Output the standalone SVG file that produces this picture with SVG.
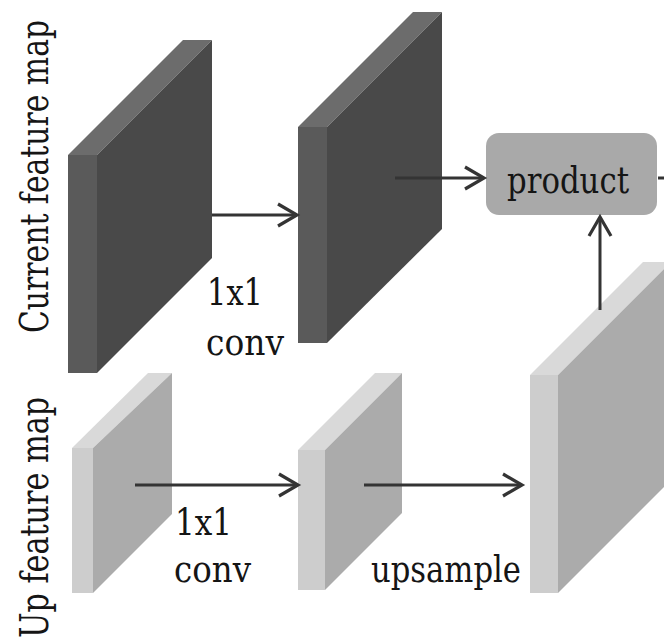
<svg xmlns="http://www.w3.org/2000/svg" width="664" height="640" viewBox="0 0 664 640">
  <style>
    .lbl { font-family: 'DejaVu Serif Condensed', 'DejaVu Serif', serif; font-size: 38px; fill: #151515; }
    .side { font-family: 'DejaVu Serif Condensed', 'DejaVu Serif', serif; font-size: 40px; fill: #151515; }
    .dk-top { fill: #6c6c6c; }
    .dk-side { fill: #5a5a5a; }
    .dk-front { fill: #494949; }
    .lt-top { fill: #d9d9d9; }
    .lt-side { fill: #cdcdcd; }
    .lt-front { fill: #ababab; }
    .conn { stroke: #343434; stroke-width: 3; fill: none; }
  </style>
  <defs>
    <marker id="arrow" markerUnits="userSpaceOnUse" markerWidth="26" markerHeight="28" viewBox="0 0 26 28" refX="22" refY="14" orient="auto">
      <path d="M3,3 L22,14 L3,25" fill="none" stroke="#343434" stroke-width="3.2" stroke-linejoin="miter"/>
    </marker>
  </defs>
  <rect width="664" height="640" fill="#ffffff"/>

  <!-- row labels -->
  <text class="side" transform="translate(48,333) rotate(-90)" textLength="313" lengthAdjust="spacingAndGlyphs">Current feature map</text>
  <text class="side" transform="translate(48,638) rotate(-90)" textLength="241" lengthAdjust="spacingAndGlyphs">Up feature map</text>

  <!-- current feature map -->
  <g id="current-map">
    <polygon class="dk-top" points="68,155 183,40 212,40 97,155"/>
    <rect class="dk-side" x="68" y="155" width="29" height="218"/>
    <polygon class="dk-front" points="97,155 212,40 212,258 97,373"/>
  </g>

  <!-- current map after 1x1 conv -->
  <g id="current-conv">
    <polygon class="dk-top" points="298,127 413,12 442,12 327,127"/>
    <rect class="dk-side" x="298" y="127" width="29" height="216"/>
    <polygon class="dk-front" points="327,127 442,12 442,229 327,343"/>
  </g>

  <!-- up feature map -->
  <g id="up-map">
    <polygon class="lt-top" points="72,448 148,373 172,373 93,448"/>
    <rect class="lt-side" x="72" y="448" width="21" height="145"/>
    <polygon class="lt-front" points="93,448 172,373 172,514 93,593"/>
  </g>

  <!-- up map after 1x1 conv -->
  <g id="up-conv">
    <polygon class="lt-top" points="298,450 375,373 402,373 325,450"/>
    <rect class="lt-side" x="298" y="450" width="27" height="140"/>
    <polygon class="lt-front" points="325,450 402,373 402,513 325,590"/>
  </g>

  <!-- upsampled map -->
  <g id="upsampled">
    <polygon class="lt-top" points="530,375 643,262 671,262 558,375"/>
    <rect class="lt-side" x="530" y="375" width="28" height="218"/>
    <polygon class="lt-front" points="558,375 671,262 671,480 558,593"/>
  </g>

  <!-- product node -->
  <g id="product">
    <rect x="486" y="133" width="171" height="82" rx="13" ry="13" fill="#a9a9a9"/>
    <text class="lbl" x="507" y="193" textLength="122" lengthAdjust="spacingAndGlyphs">product</text>
  </g>

  <!-- connectors -->
  <g id="connectors">
    <line class="conn" x1="212" y1="215" x2="297" y2="215" marker-end="url(#arrow)"/>
    <line class="conn" x1="395" y1="178" x2="484" y2="178" marker-end="url(#arrow)"/>
    <line class="conn" x1="135" y1="485" x2="298" y2="485" marker-end="url(#arrow)"/>
    <line class="conn" x1="364" y1="485" x2="522" y2="485" marker-end="url(#arrow)"/>
    <line class="conn" x1="600" y1="310" x2="600" y2="217" marker-end="url(#arrow)"/>
    <line class="conn" x1="658" y1="178" x2="664" y2="178"/>
  </g>

  <!-- connector labels -->
  <g id="labels">
    <text class="lbl" x="207" y="305" textLength="56" lengthAdjust="spacingAndGlyphs">1x1</text>
    <text class="lbl" x="206" y="355" textLength="78" lengthAdjust="spacingAndGlyphs">conv</text>
    <text class="lbl" x="175" y="535" textLength="57" lengthAdjust="spacingAndGlyphs">1x1</text>
    <text class="lbl" x="174" y="582" textLength="77" lengthAdjust="spacingAndGlyphs">conv</text>
    <text class="lbl" x="371" y="582" textLength="150" lengthAdjust="spacingAndGlyphs">upsample</text>
  </g>
</svg>
